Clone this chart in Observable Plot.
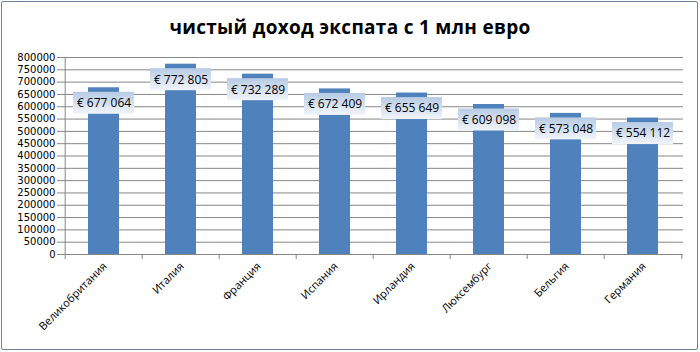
<!DOCTYPE html>
<html>
<head>
<meta charset="utf-8">
<script src="https://cdn.jsdelivr.net/npm/d3@7"></script>
<script src="https://cdn.jsdelivr.net/npm/@observablehq/plot@0.6"></script>
<style>
  html, body { margin: 0; padding: 0; background: #fff; }
  #wrap { position: relative; width: 700px; height: 352px; overflow: hidden; }
  #frame { position: absolute; left: 1px; top: 1px; width: 695px; height: 347px; border: 1.5px solid #6a819c; border-radius: 2px; box-sizing: content-box; pointer-events: none; }
  #title { position: absolute; left: 0; top: 14px; width: 700px; text-align: center; font-family: "Open Sans", sans-serif; font-weight: bold; font-size: 19px; color: #000; letter-spacing: 0.3px; }
</style>
</head>
<body>
<div id="wrap">
  <div id="title">чистый доход экспата с 1 млн евро</div>
  <div id="chart"></div>
  <div id="frame"></div>
</div>
<script>
const countries = ["Великобритания", "Италия", "Франция", "Испания", "Ирландия", "Люксембург", "Бельгия", "Германия"];
const netIncome = [677064, 772805, 732289, 672409, 655649, 609098, 573048, 554112];
const labels = ["€ 677 064", "€ 772 805", "€ 732 289", "€ 672 409", "€ 655 649", "€ 609 098", "€ 573 048", "€ 554 112"];
const yTicks = d3.range(0, 800001, 50000);

const data = countries.map((c, i) => ({country: c, value: netIncome[i], label: labels[i]}));

const W = 700, H = 352;
const mL = 62, mR = 17, mT = 57, mB = 98;
const band = (W - mL - mR) / countries.length;

const defs = () => {
  const d = d3.create("svg:defs");
  const g = d.append("linearGradient").attr("id", "lblgrad").attr("x1", 0).attr("y1", 0).attr("x2", 0).attr("y2", 1);
  g.append("stop").attr("offset", "0%").attr("stop-color", "#b7cbe4");
  g.append("stop").attr("offset", "100%").attr("stop-color", "#f1f5fb");
  return d.node();
};

const chart = Plot.plot({
  width: W,
  height: H,
  marginLeft: mL,
  marginRight: mR,
  marginTop: mT,
  marginBottom: mB,
  style: {fontFamily: "Open Sans, sans-serif", fontSize: "11px", color: "#000", background: "transparent"},
  x: {domain: countries, paddingInner: 0.6, paddingOuter: 0.3, align: 0.5, label: null},
  y: {domain: [0, 800000], label: null},
  marks: [
    defs,
    Plot.gridY(yTicks, {stroke: "#868686", strokeOpacity: 1, strokeWidth: 1}),
    Plot.barY(data, {x: "country", y: "value", fill: "#4f81bd"}),
    Plot.ruleY([0], {stroke: "#868686"}),
    Plot.ruleX([0], {x: () => countries[0], y1: 0, y2: 800000, dx: -band / 2, stroke: "#868686"}),
    Plot.ruleX(countries, {x: d => d, y1: 0, y2: 0, insetBottom: -5, dx: -band / 2, stroke: "#868686"}),
    Plot.ruleX([countries[countries.length - 1]], {x: d => d, y1: 0, y2: 0, insetBottom: -5, dx: band / 2, stroke: "#868686"}),
    Plot.axisY(yTicks, {tickSize: 5, tickPadding: 2, stroke: "#868686", tickFormat: d => String(d), fontSize: 10, fontFamily: "DejaVu Sans, sans-serif", fill: "#000", letterSpacing: 0.5}),
    Plot.axisX({tickSize: 0, tickRotate: -45, tickPadding: 10, dx: 1, fontSize: 11, fill: "#000"}),
    Plot.rect(data, {x: "country", y1: "value", y2: "value", insetLeft: -15, insetRight: -15, insetTop: -11, insetBottom: -11, dy: 15.5, fill: "url(#lblgrad)"}),
    Plot.text(data, {x: "country", y: "value", text: "label", dy: 15.5, fontSize: 12, fill: "#000"})
  ]
});
document.getElementById("chart").appendChild(chart);
</script>
</body>
</html>
